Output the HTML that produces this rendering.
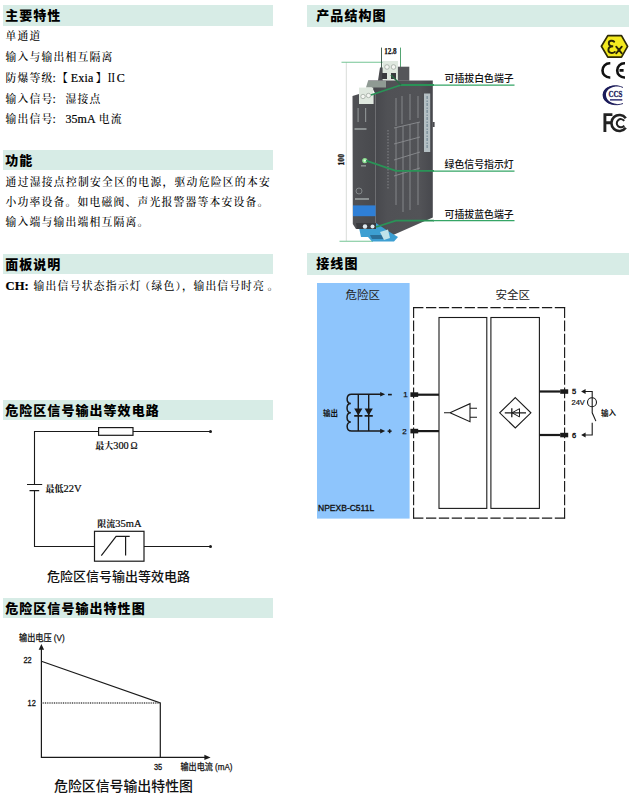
<!DOCTYPE html>
<html lang="zh-CN">
<head>
<meta charset="utf-8">
<title>NPEXB-C511L</title>
<style>
html,body{margin:0;padding:0;background:#fff;}
body{width:630px;height:802px;position:relative;overflow:hidden;font-family:"Liberation Serif","Noto Serif CJK SC",serif;color:#111;}
.hd{position:absolute;background:#d7ece6;height:21px;font-family:"Liberation Sans","Noto Sans CJK SC",sans-serif;font-weight:900;font-size:13px;line-height:21px;color:#000;white-space:nowrap;letter-spacing:1.05px;}
.hd.l{left:3.2px;width:269.5px;padding-left:2px;box-sizing:border-box;}
.hd.r{left:307.3px;width:321.4px;padding-left:9px;box-sizing:border-box;}
.t{position:absolute;left:5.6px;font-size:10.8px;letter-spacing:1.2px;line-height:20px;height:20px;white-space:nowrap;color:#000;font-weight:500;}
.e{font-size:12px;letter-spacing:0;font-weight:400;-webkit-text-stroke:0.2px #000;}
b.e{font-weight:700;}
.j{width:265.4px;text-align:justify;text-align-last:justify;white-space:nowrap;}
.cap{position:absolute;font-family:"Liberation Sans","Noto Sans CJK SC",sans-serif;color:#111;white-space:nowrap;font-weight:500;}
.lb{position:absolute;font-family:"Liberation Sans","Noto Sans CJK SC",sans-serif;font-weight:500;font-size:9.9px;line-height:12px;color:#111;white-space:nowrap;}
svg{position:absolute;left:0;top:0;}
svg text{font-family:"Liberation Sans","Noto Sans CJK SC",sans-serif;}
</style>
</head>
<body>
<div class="hd l" style="top:5.3px;height:20.4px;line-height:21.0px;">主要特性</div>
<div class="t" style="top:25.5px;">单通道</div>
<div class="t" style="top:47.0px;">输入与输出相互隔离</div>
<div class="t" style="top:68.0px;">防爆等级<span class="e" style="margin-left:-1.2px">:</span><span style="margin-left:1.3px">【</span><span class="e" style="margin-left:1.8px;letter-spacing:0.2px">Exia</span><span style="margin-left:2.2px">】</span><span style="margin-left:-1.8px">Ⅱ</span><span class="e" style="margin-left:-1.2px">C</span></div>
<div class="t" style="top:88.8px;">输入信号<span class="e" style="margin-left:-1.2px">: </span><span style="margin-left:6.8px">湿接点</span></div>
<div class="t" style="top:108.7px;">输出信号<span class="e" style="margin-left:-1.2px">: </span><span class="e" style="margin-left:6.800px">35mA </span><span style="margin-left:0.8px">电流</span></div>

<div class="hd l" style="top:149.8px;height:20.7px;line-height:21.7px;">功能</div>
<div class="t j" style="top:172.1px;">通过湿接点控制安全区的电源，驱动危险区的本安</div>
<div class="t" style="top:192.1px;">小功率设备。如电磁阀、声光报警器等本安设备。</div>
<div class="t" style="top:212.1px;">输入端与输出端相互隔离。</div>

<div class="hd l" style="top:253.9px;height:20.6px;line-height:21.6px;">面板说明</div>
<div class="t" style="top:276.3px;"><b class="e" style="font-size:12.6px;">CH:</b></div>
<div class="t" style="top:276.3px;left:33.5px;letter-spacing:1.25px">输出信号状态指示灯</div>
<div class="t" style="top:276.3px;left:139.5px;">（绿色），</div>
<div class="t" style="top:276.3px;left:193.5px;letter-spacing:1.1px">输出信号时亮<span style="margin-left:2.5px">。</span></div>

<div class="hd l" style="top:399.8px;height:20.7px;line-height:21.7px;">危险区信号输出等效电路</div>
<div class="cap" style="left:47px;top:568px;font-size:13px;line-height:18px;">危险区信号输出等效电路</div>

<div class="hd l" style="top:597.9px;height:20.4px;line-height:21.4px;">危险区信号输出特性图</div>
<div class="cap" style="left:54px;top:776px;font-size:13.9px;line-height:20px;">危险区信号输出特性图</div>

<div class="hd r" style="top:5.4px;height:21.9px;line-height:22.9px;">产品结构图</div>
<div class="lb" style="left:444.5px;top:72.9px;">可插拔白色端子</div>
<div class="lb" style="left:444.5px;top:159.3px;">绿色信号指示灯</div>
<div class="lb" style="left:444.5px;top:209.3px;">可插拔蓝色端子</div>

<div class="hd r" style="top:253.3px;height:21.9px;line-height:22.9px;">接线图</div>

<svg width="630" height="802" viewBox="0 0 630 802">
<!-- equivalent circuit -->
<g fill="none" stroke="#1a1a1a" stroke-width="1.1">
<path d="M210.500 431.500H133M98.500 431.500H34.500V484.500M34.500 490.500V546.500H94.500M144 546.500H210.500"/>
<rect x="98.600" y="427.600" width="34.400" height="7.700" fill="#fff" stroke-width="1.200"/>
<path d="M27 484.500H42.200M29.500 490.600H39.200" stroke-width="1.200"/>
<rect x="94.500" y="531.300" width="49.500" height="29.900" fill="#fff" stroke-width="1.200"/>
<path d="M101.300 555.600L116.100 536.300H129.700M125.600 536.300V555.600" stroke-width="1.200"/>
</g>
<circle cx="210.500" cy="431.500" r="1.500" fill="#1a1a1a"/>
<circle cx="210.500" cy="546.500" r="1.500" fill="#1a1a1a"/>
<g font-size="9" fill="#0a0a0a" style="font-family:'Liberation Serif','Noto Serif CJK SC',serif;font-weight:700">
<text x="95.300" y="449" style="font-family:'Liberation Serif','Noto Serif CJK SC',serif">最大<tspan font-size="10.300" font-weight="400" stroke="#0a0a0a" stroke-width="0.200">300</tspan><tspan font-size="9.500" font-weight="400" dx="1.800" stroke="#0a0a0a" stroke-width="0.200">Ω</tspan></text>
<text x="45.500" y="491.700" style="font-family:'Liberation Serif','Noto Serif CJK SC',serif">最低<tspan font-size="10.500" font-weight="400" stroke="#0a0a0a" stroke-width="0.200">22V</tspan></text>
<text x="97.300" y="526.800" style="font-family:'Liberation Serif','Noto Serif CJK SC',serif">限流<tspan font-size="10.500" font-weight="400" stroke="#0a0a0a" stroke-width="0.200">35mA</tspan></text>
</g>
<!-- characteristic graph -->
<g fill="none" stroke="#1a1a1a" stroke-width="1.2">
<path d="M41.400 648V757.400H206"/>
<path d="M41.400 661.300L160.300 703V757.400"/>
<path d="M41.400 703H160.300" stroke="#4a4a4a" stroke-dasharray="1 0.800" stroke-width="1.300"/>
</g>
<path d="M41.400 643.900L44.100 649.800H38.700Z" fill="#1a1a1a"/>
<path d="M210.600 757.400L204.400 754.700V760.100Z" fill="#1a1a1a"/>
<g font-size="9" fill="#111" stroke="#111" stroke-width="0.25">
<text x="19" y="641.2" textLength="45.7" lengthAdjust="spacingAndGlyphs">输出电压 (V)</text>
<text x="23.500" y="663.100" font-size="9" stroke-width="0.300" textLength="8.200" lengthAdjust="spacingAndGlyphs">22</text>
<text x="27.600" y="706.200" font-size="9" stroke-width="0.300" textLength="8.200" lengthAdjust="spacingAndGlyphs">12</text>
<text x="153.900" y="769.700" font-size="9" stroke-width="0.300" textLength="8.200" lengthAdjust="spacingAndGlyphs">35</text>
<text x="180.5" y="769.6" textLength="52" lengthAdjust="spacingAndGlyphs">输出电流 (mA)</text>
</g>

<!-- product illustration -->
<defs>
<linearGradient id="gs" x1="0" y1="0" x2="1" y2="0"><stop offset="0" stop-color="#424348"/><stop offset="0.3" stop-color="#505155"/><stop offset="0.8" stop-color="#525357"/><stop offset="1" stop-color="#47484d"/></linearGradient>
<linearGradient id="gf" x1="0" y1="0" x2="1" y2="0"><stop offset="0" stop-color="#505155"/><stop offset="1" stop-color="#48494d"/></linearGradient>
</defs>
<g>
<!-- dimension guide lines -->
<path d="M346.3 62V241" stroke="#d9dcd9" stroke-width="1" fill="none"/>
<path d="M341.500 62.200H386" stroke="#74c495" stroke-width="1.100" fill="none"/>
<path d="M339.500 241.200H373" stroke="#74c495" stroke-width="1.100" fill="none"/>
<path d="M381.500 47.600V78" stroke="#33503f" stroke-width="0.900" fill="none"/>
<path d="M400.500 47.600V67" stroke="#3f9a62" stroke-width="0.900" fill="none"/>
<!-- top terminal -->
<path d="M378 80.6L380 67.5H383V80.6Z" fill="#4a4b4f"/>
<rect x="382.6" y="61" width="15.4" height="19.6" fill="#dfe8df"/>
<circle cx="387" cy="67" r="2.3" fill="#f4f6f2" stroke="#8a948c" stroke-width="0.6"/>
<circle cx="393.5" cy="67" r="2.3" fill="#f4f6f2" stroke="#8a948c" stroke-width="0.6"/>
<rect x="382" y="73" width="5" height="6" fill="#3a3b3f"/>
<rect x="391" y="73" width="5" height="6" fill="#3a3b3f"/>
<rect x="397.9" y="66.7" width="11.4" height="14" fill="#55565a"/>
<!-- side face -->
<path d="M368 80.6H432.8V217.5L387.5 237.5L375.5 229V94Z" fill="url(#gs)"/>
<path d="M368 81H386V87.5H366Z" fill="#8f9a93"/>
<!-- label strip and print on side -->
<rect x="424" y="93.500" width="6.200" height="58.500" fill="#b4bfc3"/>
<path d="M427.200 96V148" stroke="#8496a0" stroke-width="1.600" stroke-dasharray="3 1.500 1.500 1" fill="none"/>
<rect x="432.600" y="122" width="2" height="5" fill="#4a4b50"/>
<g stroke="#a3a5a8" stroke-width="0.9" fill="none" opacity="0.7">
<path d="M396 98V126M402 96V124M410 94V120M418 96V118"/>
<path d="M394 160L420 152M394 176L420 168M394 128L420 122M394 144L420 137"/>
<path d="M396 128V205M403 126V212M410 124V210M418 122V205"/>
<path d="M388 130V190" stroke-dasharray="1.5 1.5"/>
</g>
<!-- second terminal -->
<rect x="359" y="87.6" width="14.2" height="16.6" fill="#dfe8df"/>
<circle cx="363" cy="96.5" r="2.2" fill="#f4f6f2" stroke="#8a948c" stroke-width="0.6"/>
<circle cx="368.5" cy="95.5" r="2.2" fill="#f4f6f2" stroke="#8a948c" stroke-width="0.6"/>
<!-- front face -->
<path d="M352.5 96L359 94V104H373.5V94H375.6V229H356L352.8 224Z" fill="url(#gf)"/>
<rect x="353" y="205.4" width="22.6" height="10.8" fill="#2f7fd6"/>
<g fill="#9aa0a0" opacity="0.8">
<rect x="354.5" y="128" width="12" height="2"/>
<rect x="355" y="198" width="14" height="2"/>
<rect x="357.5" y="108" width="1.2" height="14"/>
<rect x="365" y="108" width="1.2" height="14"/>
<rect x="361" y="165" width="5" height="1.6"/>
</g>
<circle cx="359" cy="191" r="3" fill="none" stroke="#8f9496" stroke-width="0.8"/>
<!-- bottom terminals -->
<path d="M358 223H376L388 231L398 237L394 241.5H372L368 237H361Z" fill="#3d9fd2"/>
<path d="M356 223H376V229H357Z" fill="#3a3b3f"/>
<circle cx="365" cy="226.5" r="2.2" fill="#dfeaf0"/>
<circle cx="372.5" cy="226.5" r="2" fill="#dfeaf0"/>
<path d="M370 235H384L386 239H372Z" fill="#2b6f98"/>
<path d="M380 232L388 229.500L390 238L384 240Z" fill="#bfe3ea"/>
<!-- led -->
<circle cx="364.8" cy="160.6" r="2.6" fill="#8be08f"/>
<circle cx="364.8" cy="160.6" r="1.2" fill="#e9ffe9"/>
<!-- callout lines -->
<g fill="none" stroke="#2a9357" stroke-width="1.800" stroke-linejoin="round">
<path d="M434 85H401L371 95"/>
<path d="M401 85L391 75" stroke="#2a6a45" stroke-width="1.500"/>
<path d="M434 170.800H396L366 160.600"/>
<path d="M434 220.700H396L376 227"/>
<path d="M433 85.200H514.500M433 171.200H514.500M433 220.500H514.500" stroke="#35a566" stroke-width="1.250"/>
</g>
</g>
<g fill="#111" style="font-family:'Liberation Serif',serif;font-weight:700">
<text x="384.200" y="54.400" font-size="9" textLength="12.500" lengthAdjust="spacingAndGlyphs" stroke="#111" stroke-width="0.250" style="font-family:'Liberation Serif',serif;font-weight:700">12.8</text>
<text x="0" y="0" font-size="8.600" textLength="11.600" lengthAdjust="spacingAndGlyphs" stroke="#111" stroke-width="0.300" transform="translate(343.700 165.600) rotate(-90)" style="font-family:'Liberation Serif',serif;font-weight:700">100</text>
</g>
<!-- certification marks -->
<g>
<path d="M601.400 46.300L607.800 35.600H621.500L627.600 46.300L621.500 57.100H607.800Z" fill="#f4ea1f" stroke="#2e2a08" stroke-width="1.700" stroke-linejoin="round"/>
<path d="M614.200 41.700C612.500 40.100 608.800 40.400 608.800 43.200C608.800 45.600 611.500 46.300 613.200 46.300C611.200 46.300 608.400 47 608.400 49.900C608.400 53.300 612.800 53.700 614.800 51.900" fill="none" stroke="#2a2608" stroke-width="1.900" stroke-linecap="round"/>
<path d="M616.200 46.600L621.800 53.400M621.800 46.600L616.200 53.400" fill="none" stroke="#2a2608" stroke-width="1.800" stroke-linecap="round"/>
<!-- CE -->
<path d="M610.300 63.300H609.600A7.100 7.100 0 0 0 609.600 77.500H610.300" fill="none" stroke="#111" stroke-width="2.600"/>
<path d="M625 63.300H624.300A7.100 7.100 0 0 0 624.300 77.500H625M619.500 70.400H623.600" fill="none" stroke="#111" stroke-width="2.600"/>
<!-- CCS -->
<path d="M623 87.500C617 84.500 608 85.500 604.500 91C601.500 96 604.500 102 611 104C615 105.200 620 104.800 623 103.500" fill="none" stroke="#1c1c5a" stroke-width="0.900"/>
<path d="M619 86C608 84 601.800 90 602.800 96.500C603.800 102.500 611 105.800 620 104.300C611.500 104 606.500 100.500 606 95.500C605.500 90.500 610 86.500 619 86Z" fill="#1c1c5a"/>
<text x="608.500" y="96.900" font-size="8" fill="#1c1c5a" stroke="#1c1c5a" stroke-width="0.300" textLength="13.800" lengthAdjust="spacingAndGlyphs" style="font-family:'Liberation Serif',serif;font-weight:700">CCS</text>
<rect x="610" y="99" width="12.300" height="1.700" fill="#4a4a86"/>
<!-- FC -->
<path d="M604.900 132V114.600H612.400M604.900 122.700H611" fill="none" stroke="#222" stroke-width="2.900"/>
<path d="M625.800 118.200A8 8 0 1 0 625.800 127.800" fill="none" stroke="#222" stroke-width="2.600"/>
<path d="M624.200 120.800A4.100 4.100 0 1 0 624.200 125.600" fill="none" stroke="#222" stroke-width="2"/>
</g>
<!-- wiring diagram -->
<rect x="317" y="283" width="92.600" height="235.600" fill="#8ec5fc"/>
<g fill="none" stroke="#1a1a1a" stroke-width="1.1">
<path d="M413.100 307.600H565.100M413.100 518.100H565.100" stroke-dasharray="10.300 2.582" stroke-width="1.150"/>
<path d="M413.600 307.100V518.600M564.600 307.100V518.600" stroke-dasharray="10.800 2.580" stroke-width="1.150"/>
<rect x="439" y="317.500" width="47.800" height="190.900" fill="#fff"/>
<rect x="490.900" y="317.500" width="48.500" height="190.900" fill="#fff"/>
<!-- amp -->
<path d="M444 412.800H450L470 403.700V421.700L450 412.800M470 408.300H477M470 417.200H477"/>
<!-- rectifier diamond -->
<path d="M515.300 397.600L530.900 412.800L515.300 428L499.700 412.800Z"/>
<path d="M504.800 412.800H526M511.800 408.300V417.300" stroke-width="1.300"/>
<path d="M512 412.800L519.500 408.700V416.900Z" fill="none" stroke-width="1"/>
<!-- coil and diodes -->
<path d="M382 394.300H351.500C345.800 394.300 345.800 403 350.800 403.500C345.800 403.500 345.800 412.500 350.800 412.700C345.800 412.700 345.800 421.500 350.800 421.900C345.800 422 345.800 431.100 351.500 431.100H382" stroke-width="1.500"/>
<path d="M358.300 394.300V431.100M368.700 394.300V431.100" stroke-width="1.400"/>
<path d="M354.200 415.900H362.400M364.600 415.900H372.800" stroke-width="1.800"/>
<!-- right side -->
<path d="M585 391.500H592.200V412.800L595.900 421.100M592.200 422.800V435H585"/>
<circle cx="592" cy="402.200" r="4.500"/>
</g>
<g fill="#1a1a1a">
<path d="M354.200 408.600H362.400L358.300 415.600ZM364.600 408.600H372.800L368.700 415.600Z"/>
<path d="M385.200 394.300L380.200 392V396.600ZM385.200 431.100L380.200 428.800V433.400Z"/>
<path d="M581.100 391.500L585.600 389V394ZM581.100 435L585.600 432.500V437.500Z"/>
<rect x="410.400" y="392.300" width="7.800" height="4.600"/>
<rect x="410.400" y="428.800" width="7.800" height="4.600"/>
<rect x="560.200" y="389.300" width="8" height="4.500"/>
<rect x="560.200" y="432.800" width="8" height="4.500"/>
<rect x="418" y="393.600" width="21" height="2.200"/>
<rect x="418" y="430" width="21" height="2.200"/>
<rect x="539.400" y="390.400" width="21" height="2.200"/>
<rect x="539.400" y="433.900" width="21" height="2.200"/>
<rect x="388" y="393.800" width="3.800" height="1.600"/>
<rect x="387.600" y="430.400" width="4" height="1.500"/>
<rect x="388.900" y="429.200" width="1.500" height="4"/>
</g>
<g fill="#222" font-size="11.500">
<text x="345.500" y="299.200">危险区</text>
<text x="495.500" y="298.800">安全区</text>
</g>
<g fill="#111" font-size="8" font-weight="700">
<text x="323" y="416.300" font-size="7.500">输出</text>
<text x="601" y="415.500" font-size="7.500">输入</text>
<text x="403.300" y="397.300" font-weight="400" stroke="#111" stroke-width="0.250">1</text>
<text x="402.300" y="434" font-weight="400" stroke="#111" stroke-width="0.250">2</text>
<text x="572" y="394.100" font-weight="400" font-size="7.500" stroke="#111" stroke-width="0.350">5</text>
<text x="572" y="437.600" font-weight="400" font-size="7.500" stroke="#111" stroke-width="0.350">6</text>
<text x="571.500" y="405.100" font-weight="400" font-size="7.600" textLength="13.300" lengthAdjust="spacingAndGlyphs" stroke="#111" stroke-width="0.200">24V</text>
<text x="318" y="511.400" font-size="8.300" font-weight="400" textLength="56.200" lengthAdjust="spacingAndGlyphs" stroke="#111" stroke-width="0.300">NPEXB-C511L</text>
</g>
</svg>
</body>
</html>
